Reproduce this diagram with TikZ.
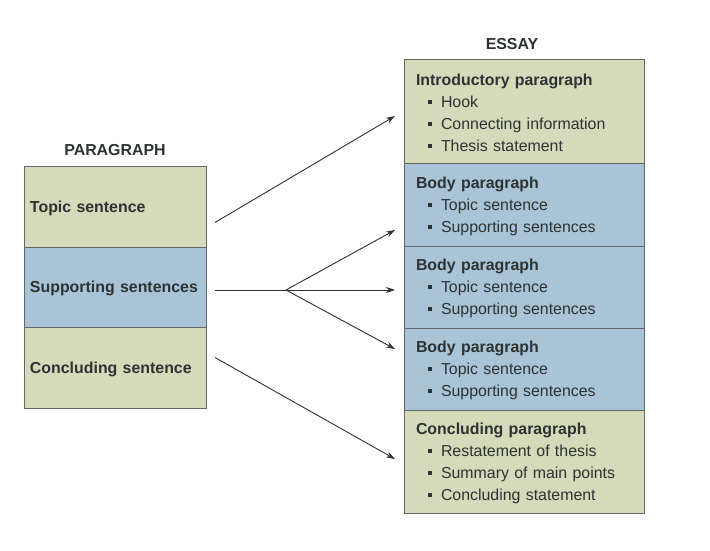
\documentclass[tikz,border=0pt]{standalone}
\usepackage{fontspec}
\setmainfont{Liberation Sans}
\usetikzlibrary{arrows.meta}
\definecolor{rowgreen}{RGB}{213,218,186}
\definecolor{rowblue}{RGB}{168,196,214}
\definecolor{inkgray}{RGB}{45,50,50}
\tikzset{
  row/.style={draw=gray!80!black, line width=0.8pt, text=inkgray,
    font=\fontsize{15.9}{22}\selectfont, align=left, inner sep=0pt},
  lrow/.style={row, minimum width=182pt, text width=170pt},
  erow/.style={row, minimum width=240pt, text width=216pt},
  title/.style={font=\bfseries\fontsize{15.9}{18}\selectfont, text=inkgray},
  link/.style={draw=inkgray, line width=0.9pt, -{Stealth[length=9pt,width=6pt]}}
}
\newcommand{\itm}[1]{\\\hspace*{12pt}\rule[3.5pt]{4pt}{4pt}\hspace{9pt}#1}
\newcommand{\lift}{\rule{0pt}{15pt}}

\begin{document}
\begin{tikzpicture}[x=1pt,y=-1pt]
\useasboundingbox (0,0) rectangle (710,551);

% paragraph
\node[title] (ptitle) at (115,150) {PARAGRAPH};
\node[lrow, fill=rowgreen, minimum height=81pt] (topic) at (115,206.5) {\lift\textbf{Topic sentence}};
\node[lrow, fill=rowblue, minimum height=80pt] (supp) at (115,287) {\lift\textbf{Supporting sentences}};
\node[lrow, fill=rowgreen, minimum height=81pt] (concl) at (115,367.5) {\lift\textbf{Concluding sentence}};

% essay
\node[title] (etitle) at (512,44) {ESSAY};
\node[erow, fill=rowgreen, minimum height=104pt] (intro) at (524,111)
  {\lift\textbf{Introductory paragraph}\itm{Hook}\itm{Connecting information}\itm{Thesis statement}};
\node[erow, fill=rowblue, minimum height=83pt] (bodya) at (524,204.5)
  {\lift\textbf{Body paragraph}\itm{Topic sentence}\itm{Supporting sentences}};
\node[erow, fill=rowblue, minimum height=82pt] (bodyb) at (524,287)
  {\lift\textbf{Body paragraph}\itm{Topic sentence}\itm{Supporting sentences}};
\node[erow, fill=rowblue, minimum height=82pt] (bodyc) at (524,369)
  {\lift\textbf{Body paragraph}\itm{Topic sentence}\itm{Supporting sentences}};
\node[erow, fill=rowgreen, minimum height=103pt] (econcl) at (524,461.5)
  {\lift\textbf{Concluding paragraph}\itm{Restatement of thesis}\itm{Summary of main points}\itm{Concluding statement}};

% arrow ends
\coordinate (topicout) at (215,222.5);
\coordinate (suppout) at (215,290);
\coordinate (conclout) at (215,357.5);
\coordinate (fork) at (286,290);
\coordinate (introin) at (395,116);
\coordinate (bodyain) at (395,230);
\coordinate (bodybin) at (395,290);
\coordinate (bodycin) at (395,349);
\coordinate (econclin) at (395,459);

\draw[link] (topicout) -- (introin);
\draw[draw=inkgray, line width=0.9pt] (suppout) -- (fork);
\draw[link] (fork) -- (bodyain);
\draw[link] (fork) -- (bodybin);
\draw[link] (fork) -- (bodycin);
\draw[link] (conclout) -- (econclin);

\end{tikzpicture}
\end{document}
